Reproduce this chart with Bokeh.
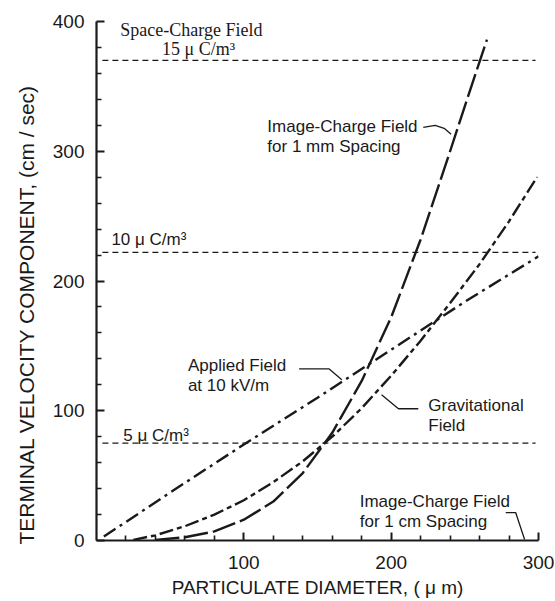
from bokeh.plotting import figure
from bokeh.models import Label, FixedTicker, Title
from bokeh.embed import file_html
from bokeh.resources import INLINE

# ---------------- data ----------------
diam_applied = [5, 50, 100, 150, 200, 250, 300]
v_applied = [3, 37, 74, 110, 147, 184, 219]

diam_grav = [25, 40, 60, 80, 100, 120, 140, 160, 180, 200, 220, 240, 260, 280, 299]
v_grav = [0.5, 4, 11, 20, 31, 45, 61, 80, 102, 127, 154, 183, 213, 246, 280]

diam_img1mm = [40, 60, 80, 100, 120, 140, 160, 180, 200, 220, 240, 255, 265]
v_img1mm = [0.5, 2.5, 7, 16, 30, 52, 83, 123, 172, 232, 300, 352, 386]

space_charge_levels = [75, 222, 370]          # cm/sec, for 5, 10, 15 uC/m^3
space_charge_x = [4, 298]

x_major = [100, 200, 300]
x_minor = [20, 40, 60, 80, 120, 140, 160, 180, 220, 240, 260, 280]
y_major = [0, 100, 200, 300, 400]
y_minor = [20, 40, 60, 80, 120, 140, 160, 180, 220, 240, 260, 280, 320, 340, 360, 380]

INK = "#1a1a1a"
SANS = "Liberation Sans"
SERIF = "Liberation Serif"

p = figure(width=554, height=600, x_range=(0, 300), y_range=(0, 400),
           output_backend="svg", toolbar_location=None,
           min_border_left=96, min_border_right=16, min_border_top=21, min_border_bottom=59)
p.outline_line_color = None
p.grid.visible = False
p.background_fill_color = "white"
p.border_fill_color = "white"

for ax in (p.xaxis[0], p.yaxis[0]):
    ax.axis_line_color = INK
    ax.axis_line_width = 2.2
    ax.major_tick_in = 8
    ax.major_tick_out = 0
    ax.minor_tick_in = 5
    ax.minor_tick_out = 0
    ax.major_tick_line_color = INK
    ax.minor_tick_line_color = INK
    ax.major_tick_line_width = 2
    ax.minor_tick_line_width = 1.6
    ax.major_label_text_font = SANS
    ax.major_label_text_font_size = "19px"
    ax.major_label_text_color = INK
    ax.major_label_standoff = 12
p.xaxis.major_label_standoff = 15

p.xaxis.ticker = FixedTicker(ticks=x_major, minor_ticks=x_minor)
p.yaxis.ticker = FixedTicker(ticks=y_major, minor_ticks=y_minor)
p.xaxis.axis_label = "PARTICULATE DIAMETER, ( \u03bc m)"
p.xaxis.axis_label_text_font = SANS
p.xaxis.axis_label_text_font_style = "normal"
p.xaxis.axis_label_text_font_size = "19px"
p.xaxis.axis_label_text_color = INK
p.xaxis.axis_label_standoff = 5

ytitle = Title(text="TERMINAL VELOCITY COMPONENT, (cm / sec)", align="left",
               text_font=SANS, text_font_style="normal", text_font_size="21px",
               text_color=INK, standoff=23, offset=-4)
p.add_layout(ytitle, "left")

# space-charge field lines
for lvl in space_charge_levels:
    p.line(space_charge_x, [lvl, lvl], line_color=INK, line_width=1.3, line_dash="6 4")

# curves
p.line(diam_applied, v_applied, line_color=INK, line_width=2.4, line_dash="14 5 3 5")
p.line(diam_grav, v_grav, line_color=INK, line_width=2.4, line_dash="14 4 5 4")
p.line(diam_img1mm, v_img1mm, line_color=INK, line_width=2.4, line_dash="24 5")

# helpers: reference-page pixel -> data (layout only)
def dx(px):
    return (px - 96) / (445 / 300)

def dy(py):
    return (541 - py) / 1.3

# leader lines
leaders = [
    [(425, 127), (437, 125), (446, 128), (453, 134)],
    [(300, 369), (330, 369), (343, 380)],
    [(420, 409), (400, 409), (383, 395)],
    [(508, 513), (518, 513), (527, 540)],
]
for pts in leaders:
    p.line([dx(a) for a, b in pts], [dy(b) for a, b in pts], line_color=INK, line_width=1.3)

def lab(px, py, text, font=SANS, size="17px"):
    p.add_layout(Label(x=dx(px), y=dy(py), text=text, text_font=font, text_font_size=size,
                       text_color=INK, text_align="left", text_baseline="alphabetic"))

lab(120, 30, "Space-Charge  Field", font=SERIF, size="18px")
lab(162, 49, "15 \u03bc C/m\u00b3", font=SERIF, size="18px")
lab(111, 239, "10 \u03bc C/m\u00b3")
lab(123, 436, "5 \u03bc C/m\u00b3")
lab(268, 126, "Image-Charge Field")
lab(268, 146, "for 1 mm Spacing")
lab(188, 366, "Applied Field")
lab(188, 386, "at 10 kV/m")
lab(430, 406, "Gravitational")
lab(430, 426, "Field")
lab(361, 502, "Image-Charge Field")
lab(361, 522, "for 1 cm Spacing")

open("out.html", "w").write(file_html(p, INLINE))
